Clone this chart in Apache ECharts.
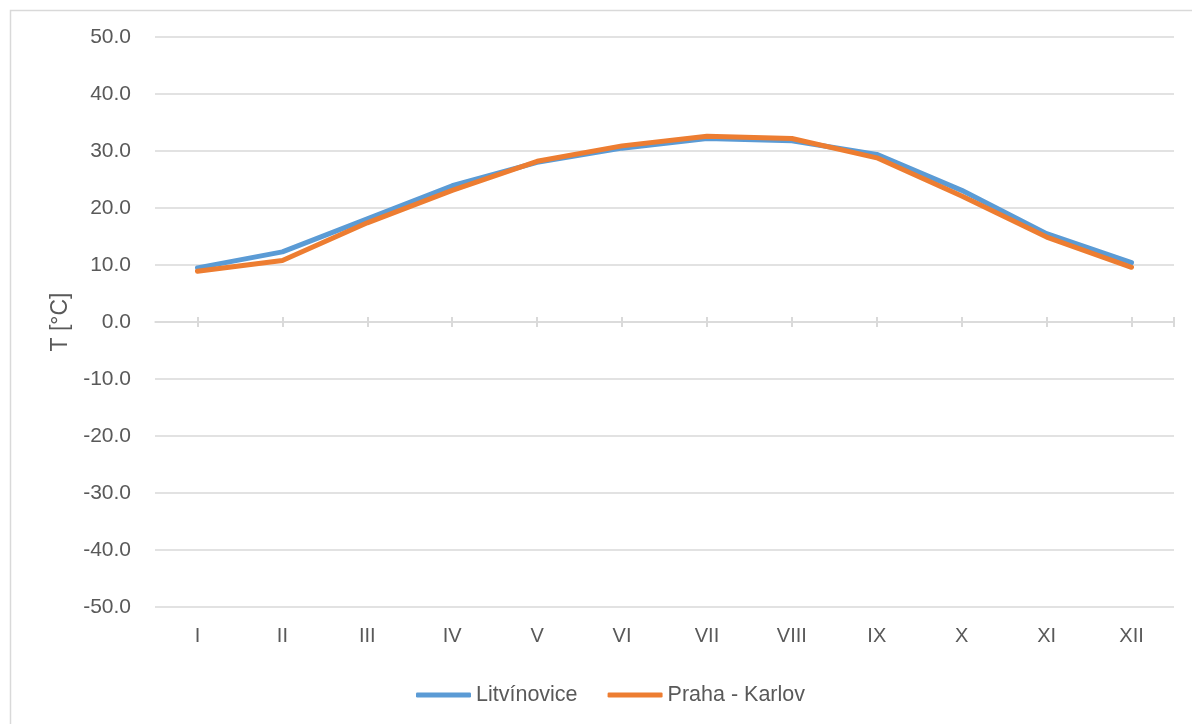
<!DOCTYPE html>
<html>
<head>
<meta charset="utf-8">
<title>Teplota</title>
<script src="https://cdn.jsdelivr.net/npm/echarts@6/dist/echarts.min.js"></script>
<style>
  html, body { margin: 0; padding: 0; background: #ffffff; }
  #chart { width: 1192px; height: 724px; }
</style>
</head>
<body>
<div id="chart"></div>
<script>
// Months (Roman numerals)
const months = ['I', 'II', 'III', 'IV', 'V', 'VI', 'VII', 'VIII', 'IX', 'X', 'XI', 'XII'];

// Monthly temperatures [°C]
const litvinovice = [9.5, 12.3, 18.1, 23.9, 28.0, 30.5, 32.2, 31.8, 29.4, 23.1, 15.5, 10.4];
const prahaKarlov = [8.9, 10.8, 17.4, 23.1, 28.2, 30.9, 32.6, 32.2, 28.8, 22.1, 14.9, 9.6];

// Value axis range
const yMin = -50;
const yMax = 50;
const yStep = 10;

const textColor = '#595959';
const gridColor = '#d9d9d9';
const fontFamily = '"Liberation Sans", Arial, sans-serif';

// Tick marks on the zero line: one per category centre plus the right end
const tickPositions = months.map((m, i) => i + 0.5).concat([months.length]);

const chart = echarts.init(document.getElementById('chart'), null, { renderer: 'canvas' });

// Helper axes that draw the crossing ticks on y = 0
function tickAxis(inside, showLine) {
  return {
    type: 'value',
    min: 0,
    max: months.length,
    position: 'bottom',
    axisLine: { show: showLine, onZero: true, onZeroAxisIndex: 0, lineStyle: { color: gridColor, width: 1.5 } },
    axisTick: { show: true, inside: inside, length: 5, customValues: tickPositions, lineStyle: { color: gridColor, width: 2 } },
    axisLabel: { show: false },
    splitLine: { show: false }
  };
}

chart.setOption({
  animation: false,
  backgroundColor: '#ffffff',
  textStyle: { fontFamily: fontFamily },
  graphic: [{
    type: 'rect',
    left: 8,
    top: 8,
    shape: { width: 1200, height: 730 },
    style: { fill: 'none', stroke: gridColor, lineWidth: 1.5 },
    silent: true
  }],
  grid: { left: 155, right: 18, top: 37, bottom: 117 },
  legend: {
    left: 411,
    top: 679,
    icon: 'roundRect',
    itemWidth: 55,
    itemHeight: 5,
    itemGap: 30,
    textStyle: { color: textColor, fontSize: 21.5, fontFamily: fontFamily },
    data: ['Litvínovice', 'Praha - Karlov']
  },
  xAxis: [
    {
      type: 'category',
      data: months,
      boundaryGap: true,
      position: 'bottom',
      axisLine: { show: false, onZero: false },
      axisTick: { show: false },
      axisLabel: { color: textColor, fontSize: 20, fontFamily: fontFamily, margin: 19 },
      splitLine: { show: false }
    },
    tickAxis(false, true),
    tickAxis(true, false)
  ],
  yAxis: {
    type: 'value',
    min: yMin,
    max: yMax,
    interval: yStep,
    name: 'T [°C]',
    nameLocation: 'middle',
    nameGap: 83,
    nameTextStyle: { color: textColor, fontSize: 23, fontFamily: fontFamily },
    axisLine: { show: false },
    axisTick: { show: false },
    axisLabel: {
      color: textColor,
      fontSize: 21,
      fontFamily: fontFamily,
      margin: 24,
      formatter: v => v.toFixed(1)
    },
    splitLine: { lineStyle: { color: gridColor, width: 1.5 } }
  },
  series: [
    {
      name: 'Litvínovice',
      type: 'line',
      xAxisIndex: 0,
      data: litvinovice,
      symbol: 'none',
      color: '#5b9bd5',
      lineStyle: { width: 5, cap: 'round', join: 'round' }
    },
    {
      name: 'Praha - Karlov',
      type: 'line',
      xAxisIndex: 0,
      data: prahaKarlov,
      symbol: 'none',
      color: '#ed7d31',
      lineStyle: { width: 5, cap: 'round', join: 'round' }
    }
  ]
});
</script>
</body>
</html>
